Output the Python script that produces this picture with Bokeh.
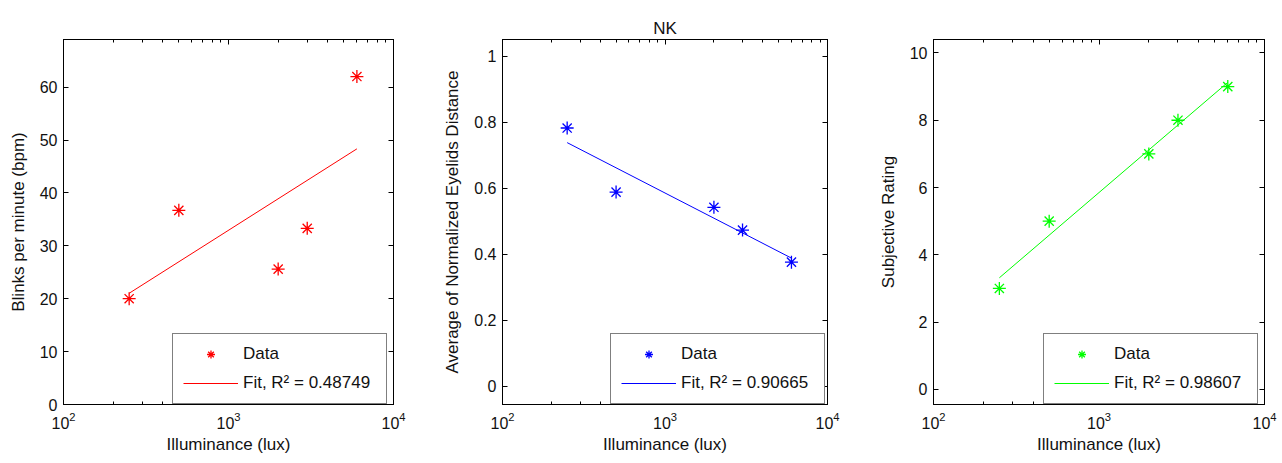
import numpy as np
from bokeh.plotting import figure
from bokeh.layouts import row
from bokeh.models import (LogAxis, LinearAxis, FixedTicker, LogTicker, Range1d,
                          Legend, LegendItem)
from bokeh.embed import file_html
from bokeh.resources import INLINE

# ---- data ----
illuminance = [250, 500, 2000, 3000, 6000]
blinks = [20.0, 36.7, 25.6, 33.3, 62.0]
eyelids = [0.782, 0.588, 0.542, 0.473, 0.376]
rating = [3, 5, 7, 8, 9]
r2_values = ["0.48749", "0.90665", "0.98607"]
y_labels = ["Blinks per minute (bpm)", "Average of Normalized Eyelids Distance", "Subjective Rating"]
y_ranges = [(0, 69), (-0.055, 1.05), (-0.45, 10.4)]
y_ticks = [[0, 10, 20, 30, 40, 50, 60], [0, 0.2, 0.4, 0.6, 0.8, 1.0], [0, 2, 4, 6, 8, 10]]
colors = ["#FF0000", "#0000FF", "#00FF00"]
titles = ["", "NK", ""]
x_label = "Illuminance (lux)"
series = [blinks, eyelids, rating]

FONT = "Liberation Sans"
widths = [440, 435, 406]
borders_l = [63, 58, 58]
borders_r = [47, 48, 17]
frame_w = [330, 329, 331]
LEG_W = 215

figs = []
for i in range(3):
    p = figure(width=widths[i], height=462, x_axis_type="log",
               x_range=Range1d(100, 10000), y_range=Range1d(*y_ranges[i]),
               output_backend="svg", toolbar_location=None,
               min_border_left=borders_l[i], min_border_right=borders_r[i],
               min_border_top=39, min_border_bottom=58)
    p.grid.visible = False
    p.outline_line_color = "black"
    p.background_fill_color = "white"
    p.border_fill_color = "white"
    if titles[i]:
        p.title.text = titles[i]
        p.title.align = "center"
        p.title.text_font = FONT
        p.title.text_font_size = "17px"
        p.title.text_font_style = "normal"
        p.title.text_color = "#111111"
        p.title.standoff = 4

    p.xaxis.ticker = LogTicker(num_minor_ticks=10)
    p.yaxis.ticker = FixedTicker(ticks=y_ticks[i])
    for ax in (p.xaxis[0], p.yaxis[0]):
        ax.major_tick_in = 5
        ax.major_tick_out = 0
        ax.minor_tick_in = 3
        ax.minor_tick_out = 0
        ax.axis_line_color = "black"
        ax.major_tick_line_color = "black"
        ax.minor_tick_line_color = "black"
        ax.major_label_text_font = FONT
        ax.major_label_text_font_size = "16px"
        ax.major_label_text_color = "#111111"
        ax.axis_label_text_font = FONT
        ax.axis_label_text_font_size = "17px"
        ax.axis_label_text_font_style = "normal"
        ax.axis_label_text_color = "#111111"
    p.yaxis.minor_tick_in = 0
    p.xaxis.axis_label = x_label
    p.yaxis.axis_label = y_labels[i]
    p.xaxis.major_label_standoff = 7
    p.xaxis.axis_label_standoff = 3
    p.yaxis.major_label_standoff = 6
    p.yaxis.axis_label_standoff = 9

    top = LogAxis(ticker=LogTicker(num_minor_ticks=10), major_label_text_font_size="1px",
                  major_label_text_alpha=0,
                  major_tick_in=5, major_tick_out=0, minor_tick_in=3, minor_tick_out=0,
                  major_label_standoff=9 if titles[i] else 0, axis_line_color="black")
    right = LinearAxis(ticker=FixedTicker(ticks=y_ticks[i]), major_label_text_font_size="1px",
                       major_label_text_alpha=0,
                       major_tick_in=5, major_tick_out=0, minor_tick_in=0, minor_tick_out=0,
                       major_label_standoff=0, axis_line_color="black")
    p.add_layout(top, "above")
    p.add_layout(right, "right")

    x = np.array(illuminance, dtype=float)
    y = np.array(series[i], dtype=float)
    slope, intercept = np.polyfit(np.log10(x), y, 1)
    xf = np.array([x.min(), x.max()])
    yf = slope * np.log10(xf) + intercept

    r_data = p.scatter(x, y, marker="asterisk", size=13, line_color=colors[i], line_width=1.3)
    r_fit = p.line(xf, yf, line_color=colors[i], line_width=1)

    legend = Legend(items=[LegendItem(label="Data", renderers=[r_data]),
                           LegendItem(label="Fit, R\u00b2 = " + r2_values[i], renderers=[r_fit])],
                    location=(frame_w[i] - LEG_W - 6, 0))
    legend.border_line_color = "black"
    legend.border_line_width = 1
    legend.background_fill_alpha = 1
    legend.label_text_font = FONT
    legend.label_text_font_size = "17px"
    legend.label_text_color = "#111111"
    legend.glyph_width = 55
    legend.glyph_height = 20
    legend.label_standoff = 5
    legend.label_width = 133
    legend.spacing = 9
    legend.padding = 10
    legend.margin = 0
    p.add_layout(legend, "center")
    figs.append(p)

layout = row(*figs)
open("out.html", "w").write(file_html(layout, INLINE))
